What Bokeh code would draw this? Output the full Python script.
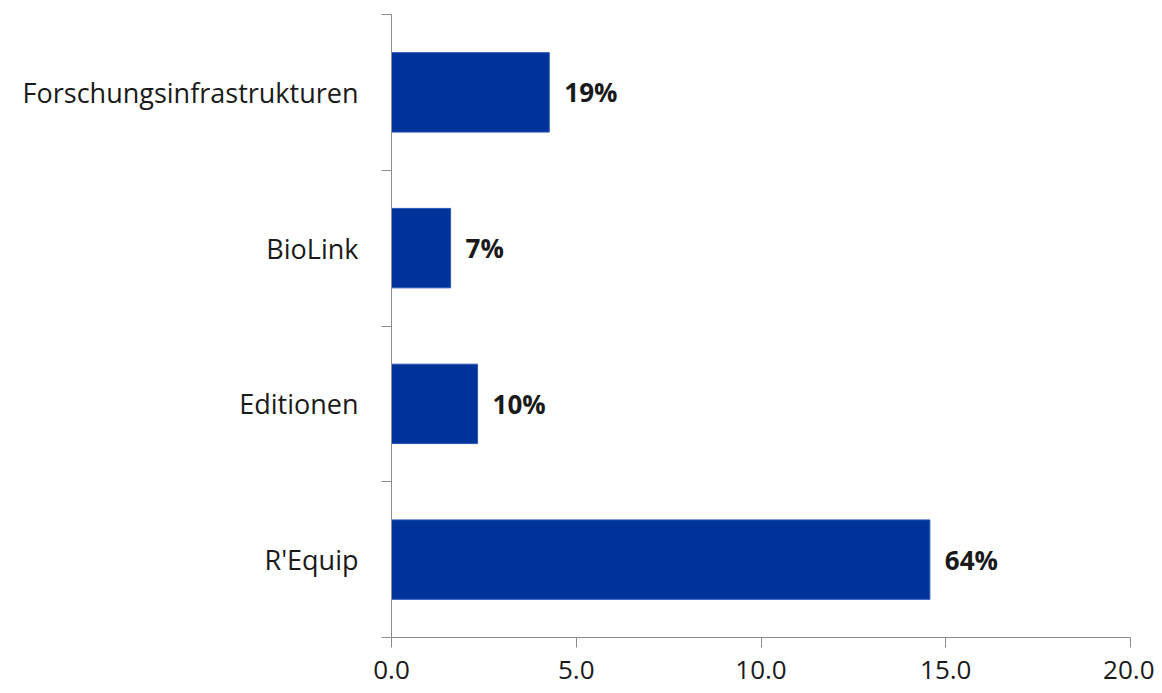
from bokeh.plotting import figure
from bokeh.models import Range1d, FixedTicker, NumeralTickFormatter, ColumnDataSource
from bokeh.core.properties import value
from bokeh.embed import file_html
from bokeh.resources import INLINE

# Data (top to bottom as displayed)
categories = ["Forschungsinfrastrukturen", "BioLink", "Editionen", "R'Equip"]
values = [4.27, 1.60, 2.33, 14.57]
shares = ["19%", "7%", "10%", "64%"]
x_ticks = [0, 5, 10, 15, 20]

n = len(categories)
ypos = [n - i - 0.5 for i in range(n)]

src = ColumnDataSource(dict(y=ypos, v=values, lab=shares, cat=categories))

FONT = "Open Sans"
AXIS_COLOR = "#8c8c8c"

p = figure(width=1154, height=685, output_backend="svg", toolbar_location=None,
           x_range=Range1d(0, 20), y_range=Range1d(0, n),
           min_border_left=391, min_border_right=24, min_border_top=14, min_border_bottom=48)
p.outline_line_color = None
p.grid.grid_line_color = None
p.background_fill_color = "white"

p.hbar(y="y", right="v", left=0, height=0.51, source=src,
       fill_color="#003399", line_color="#2a57b8", line_width=1)

p.text(x="v", y="y", text="lab", source=src, x_offset=15,
       text_baseline="middle", text_align="left",
       text_font=value(FONT), text_font_size="26px", text_font_style="bold",
       text_color="#1a1a1a")

# x axis
xa = p.xaxis[0]
xa.ticker = FixedTicker(ticks=x_ticks, minor_ticks=[])
xa.formatter = NumeralTickFormatter(format="0.0")
xa.axis_line_color = AXIS_COLOR
xa.major_tick_line_color = AXIS_COLOR
xa.major_tick_out = 10
xa.major_tick_in = 0
xa.minor_tick_line_color = None
xa.major_label_text_font = FONT
xa.major_label_text_font_size = "26px"
xa.major_label_text_color = "#1a1a1a"
xa.major_label_standoff = 13

# y axis: labels at category centres, ticks at category boundaries (minor ticks)
ya = p.yaxis[0]
ya.ticker = FixedTicker(ticks=ypos, minor_ticks=list(range(n + 1)))
ya.major_label_overrides = {y: c for y, c in zip(ypos, categories)}
ya.axis_line_color = AXIS_COLOR
ya.major_tick_line_color = None
ya.major_tick_out = 0
ya.major_tick_in = 0
ya.minor_tick_line_color = AXIS_COLOR
ya.minor_tick_out = 10
ya.minor_tick_in = 0
ya.major_label_text_font = FONT
ya.major_label_text_font_size = "27px"
ya.major_label_text_color = "#1a1a1a"
ya.major_label_standoff = 23

open("out.html", "w").write(file_html(p, INLINE))
